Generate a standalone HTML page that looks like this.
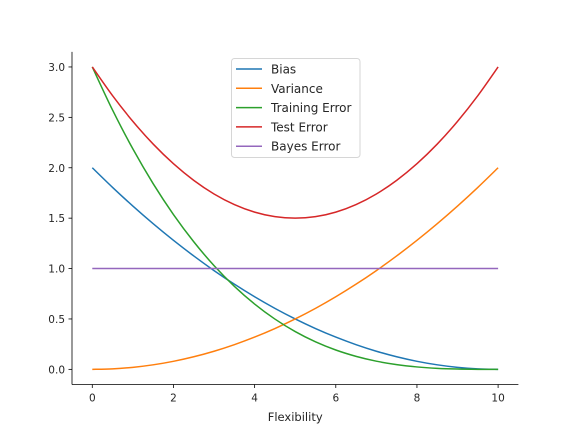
<!DOCTYPE html>
<html><head><meta charset="utf-8"><style>
body{margin:0;background:#fff}
svg text{font-family:"DejaVu Sans","Liberation Sans",sans-serif;fill:#262626}
</style></head><body>
<svg id="chart" width="576" height="432" xmlns="http://www.w3.org/2000/svg">
<g id="plot"></g>
<g id="axes"></g>
<g id="legend"></g>
</svg>
<script>
const xs=[0,0.5,1,1.5,2,2.5,3,3.5,4,4.5,5,5.5,6,6.5,7,7.5,8,8.5,9,9.5,10];
const bias=[2,1.805,1.62,1.445,1.28,1.125,0.98,0.845,0.72,0.605,0.5,0.405,0.32,0.245,0.18,0.125,0.08,0.045,0.02,0.005,0];
const variance=[0,0.005,0.02,0.045,0.08,0.125,0.18,0.245,0.32,0.405,0.5,0.605,0.72,0.845,0.98,1.125,1.28,1.445,1.62,1.805,2];
const training=[3,2.572,2.187,1.842,1.536,1.266,1.029,0.824,0.648,0.499,0.375,0.273,0.192,0.129,0.081,0.047,0.024,0.010,0.003,0.0004,0];
const test=[3,2.715,2.46,2.235,2.04,1.875,1.74,1.635,1.56,1.515,1.5,1.515,1.56,1.635,1.74,1.875,2.04,2.235,2.46,2.715,3];
const bayes=[1,1,1,1,1,1,1,1,1,1,1,1,1,1,1,1,1,1,1,1,1];
const xTicks=[0,2,4,6,8,10];
const yTicks=[0,0.5,1,1.5,2,2.5,3];
const seriesNames=["Bias","Variance","Training Error","Test Error","Bayes Error"];
const seriesColors=["#1f77b4","#ff7f0e","#2ca02c","#d62728","#9467bd"];
const seriesData=[bias,variance,training,test,bayes];

const L=72,R=518.4,T=51.84,B=384.48;
const xmin=-0.5,xmax=10.5,ymin=-0.15,ymax=3.15;
const X=v=>L+(v-xmin)/(xmax-xmin)*(R-L);
const Y=v=>B-(v-ymin)/(ymax-ymin)*(B-T);
const NS="http://www.w3.org/2000/svg";
function mk(tag,attrs,parent){const e=document.createElementNS(NS,tag);for(const k in attrs)e.setAttribute(k,attrs[k]);parent.appendChild(e);return e;}
const plot=document.getElementById('plot'),axes=document.getElementById('axes'),leg=document.getElementById('legend');

function smoothPath(pts){
  let d='M'+pts[0][0].toFixed(2)+','+pts[0][1].toFixed(2);
  for(let i=0;i<pts.length-1;i++){
    const p0=pts[Math.max(i-1,0)],p1=pts[i],p2=pts[i+1],p3=pts[Math.min(i+2,pts.length-1)];
    const c1=[p1[0]+(p2[0]-p0[0])/6,p1[1]+(p2[1]-p0[1])/6];
    const c2=[p2[0]-(p3[0]-p1[0])/6,p2[1]-(p3[1]-p1[1])/6];
    d+=' C'+c1[0].toFixed(2)+','+c1[1].toFixed(2)+' '+c2[0].toFixed(2)+','+c2[1].toFixed(2)+' '+p2[0].toFixed(2)+','+p2[1].toFixed(2);
  }
  return d;
}

seriesData.forEach((d,i)=>{
  const pts=xs.map((x,j)=>[X(x),Y(d[j])]);
  const p=mk('path',{d:smoothPath(pts),fill:'none',stroke:seriesColors[i],'stroke-width':1.5},plot);
  
  
});

const ls=mk('line',{x1:L,y1:T,x2:L,y2:B,stroke:'#000','stroke-width':0.8},axes);


const bs=mk('line',{x1:L,y1:B,x2:R,y2:B,stroke:'#000','stroke-width':0.8},axes);



xTicks.forEach(t=>{
  mk('line',{x1:X(t),y1:B,x2:X(t),y2:B+3.5,stroke:'#000','stroke-width':0.8},axes);
  const tx=mk('text',{x:X(t),y:B+17,'text-anchor':'middle','font-size':'10.5px'},axes);
  tx.textContent=String(t);
  
  
});
yTicks.forEach(t=>{
  mk('line',{x1:L-3.5,y1:Y(t),x2:L,y2:Y(t),stroke:'#000','stroke-width':0.8},axes);
  const tx=mk('text',{x:L-7,y:Y(t)+4,'text-anchor':'end','font-size':'10.5px'},axes);
  tx.textContent=t.toFixed(1);
  
  
});
const xl=mk('text',{x:(L+R)/2,y:421,'text-anchor':'middle','font-size':'11.5px'},axes);
xl.textContent='Flexibility';



const box=mk('rect',{x:231.5,y:58.5,width:128.5,height:99,rx:3,fill:'#fff','fill-opacity':0.8,stroke:'#d6d6d6','stroke-width':1},leg);


seriesNames.forEach((n,i)=>{
  const y=69+i*19.3;
  const g=mk('g',{},leg);
  
  
  mk('line',{x1:236,y1:y,x2:262,y2:y,stroke:seriesColors[i],'stroke-width':1.5},g);
  const t=mk('text',{x:271,y:y+4.5,'font-size':'12px'},g);
  t.textContent=n;
});
</script>
</body></html>
